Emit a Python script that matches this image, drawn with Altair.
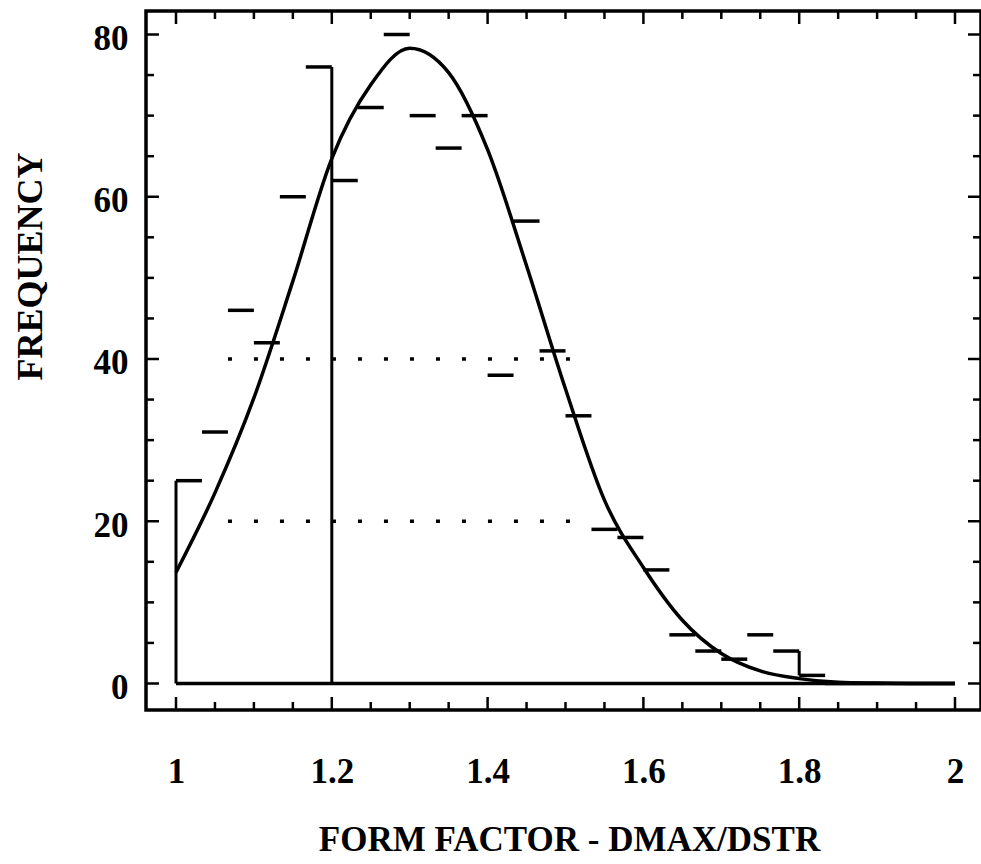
import altair as alt
import pandas as pd

# ---------------- data ----------------
bin_width = 1 / 30
bin_start = [round(1 + i * bin_width, 5) for i in range(30)]
bin_end = [round(b + bin_width, 5) for b in bin_start]
counts = [25, 31, 46, 42, 60, 76, 62, 71, 80, 70, 66, 70, 38, 57, 41,
          33, 19, 18, 14, 6, 4, 3, 6, 4, 1, 0, 0, 0, 0, 0]

# vertical histogram edges visible in the scan
edge_x = [1.0, 1.2, 1.8]
edge_lo = [0, 0, 1]
edge_hi = [25, 76, 4]

# baseline of the histogram
base_from = [1.0]
base_to = [2.0]

# fitted curve
curve_x = [1.00, 1.05, 1.10, 1.15, 1.20, 1.25, 1.30, 1.35, 1.40, 1.45, 1.50,
           1.55, 1.60, 1.65, 1.70, 1.75, 1.80, 1.85, 1.90, 1.95, 2.00]
curve_y = [13.7, 23.5, 35.2, 49.6, 64.7, 73.8, 78.3, 75.3, 65.8, 51.5, 36.3,
           22.6, 14.3, 7.8, 3.7, 1.55, 0.6, 0.15, 0.05, 0.0, 0.0]

# faint dotted grid lines
grid_level = [20, 40]
grid_from = [1.0667, 1.0667]
grid_to = [1.5333, 1.5333]

# tick positions
x_major = [1.0, 1.2, 1.4, 1.6, 1.8, 2.0]
x_minor = [1.05, 1.10, 1.15, 1.25, 1.30, 1.35, 1.45, 1.50, 1.55,
           1.65, 1.70, 1.75, 1.85, 1.90, 1.95]
y_major = [0, 20, 40, 60, 80]
y_minor = [5, 10, 15, 25, 30, 35, 45, 50, 55, 65, 70, 75]

# ---------------- chart ----------------
W, H = 835, 699
FONT = "Liberation Serif"

xs = alt.Scale(domain=[0.96149, 2.03338], nice=False, zero=False)
ys = alt.Scale(domain=[-3.267, 82.897], nice=False, zero=False)

xaxis = alt.Axis(
    title="FORM FACTOR - DMAX/DSTR", values=x_major, format="~g",
    grid=False, domain=False, ticks=False, tickSize=0,
    labelFont=FONT, labelFontSize=35, labelFontWeight="bold", labelColor="black",
    labelBaseline="alphabetic", labelPadding=72, labelFlush=False,
    titleFont=FONT, titleFontSize=35, titleFontWeight="bold", titleColor="black",
    titleX=423, titleY=140, titleAlign="center", titleBaseline="alphabetic",
)
yaxis = alt.Axis(
    title="FREQUENCY", values=y_major, format="d",
    grid=False, domain=False, ticks=False, tickSize=0,
    labelFont=FONT, labelFontSize=35, labelFontWeight="bold", labelColor="black",
    labelBaseline="middle", labelPadding=18, labelOffset=4, labelFlush=False,
    titleFont=FONT, titleFontSize=36, titleFontWeight="bold", titleColor="black",
    titleAngle=270, titleX=-105, titleY=255, titleAlign="center",
    titleBaseline="alphabetic",
)

hist_df = pd.DataFrame({"x": bin_start, "x2": bin_end, "y": counts})
edge_df = pd.DataFrame({"x": edge_x, "y": edge_lo, "y2": edge_hi})
base_df = pd.DataFrame({"x": base_from, "x2": base_to, "y": [0]})
curve_df = pd.DataFrame({"x": curve_x, "y": curve_y})
grid_df = pd.DataFrame({"x": grid_from, "x2": grid_to, "y": grid_level})

tops = alt.Chart(hist_df).mark_rule(color="black", strokeWidth=3.5).encode(
    x=alt.X("x:Q", scale=xs, axis=xaxis),
    x2="x2:Q",
    y=alt.Y("y:Q", scale=ys, axis=yaxis),
)

edges = alt.Chart(edge_df).mark_rule(color="black", strokeWidth=3).encode(
    x=alt.X("x:Q", scale=xs, axis=xaxis),
    y=alt.Y("y:Q", scale=ys, axis=yaxis),
    y2="y2:Q",
)

base = alt.Chart(base_df).mark_rule(color="black", strokeWidth=3.5).encode(
    x=alt.X("x:Q", scale=xs, axis=xaxis),
    x2="x2:Q",
    y=alt.Y("y:Q", scale=ys, axis=yaxis),
)

grid = alt.Chart(grid_df).mark_rule(
    color="black", strokeWidth=3.5, strokeDash=[4, 22], strokeCap="butt"
).encode(
    x=alt.X("x:Q", scale=xs, axis=xaxis),
    x2="x2:Q",
    y=alt.Y("y:Q", scale=ys, axis=yaxis),
)

curve = alt.Chart(curve_df).mark_line(
    color="black", strokeWidth=3.5, interpolate="monotone"
).encode(
    x=alt.X("x:Q", scale=xs, axis=xaxis),
    y=alt.Y("y:Q", scale=ys, axis=yaxis),
)

def xticks(vals, length, at_top):
    df = pd.DataFrame({"x": vals})
    if at_top:
        yy, yy2 = alt.value(0), alt.value(length)
    else:
        yy, yy2 = alt.value(H), alt.value(H - length)
    return alt.Chart(df).mark_rule(color="black", strokeWidth=2.5).encode(
        x=alt.X("x:Q", scale=xs, axis=xaxis), y=yy, y2=yy2
    )

def yticks(vals, length, at_left):
    df = pd.DataFrame({"y": vals})
    if at_left:
        xx, xx2 = alt.value(0), alt.value(length)
    else:
        xx, xx2 = alt.value(W), alt.value(W - length)
    return alt.Chart(df).mark_rule(color="black", strokeWidth=2.5).encode(
        y=alt.Y("y:Q", scale=ys, axis=yaxis), x=xx, x2=xx2
    )

tick_layers = [
    xticks(x_major, 13, True), xticks(x_minor, 8, True),
    xticks(x_major, 13, False), xticks(x_minor, 8, False),
    yticks(y_major, 13, True), yticks(y_minor, 8, True),
    yticks(y_major, 13, False), yticks(y_minor, 8, False),
]

chart = alt.layer(grid, base, tops, edges, curve, *tick_layers).properties(
    width=W, height=H,
    autosize=alt.AutoSizeParams(type="none"),
    padding={"left": 146, "top": 11, "right": 0, "bottom": 152},
    background="white",
).configure_view(stroke="black", strokeWidth=3.5)

chart.save("out.html", embed_options={"renderer": "svg", "actions": False})
